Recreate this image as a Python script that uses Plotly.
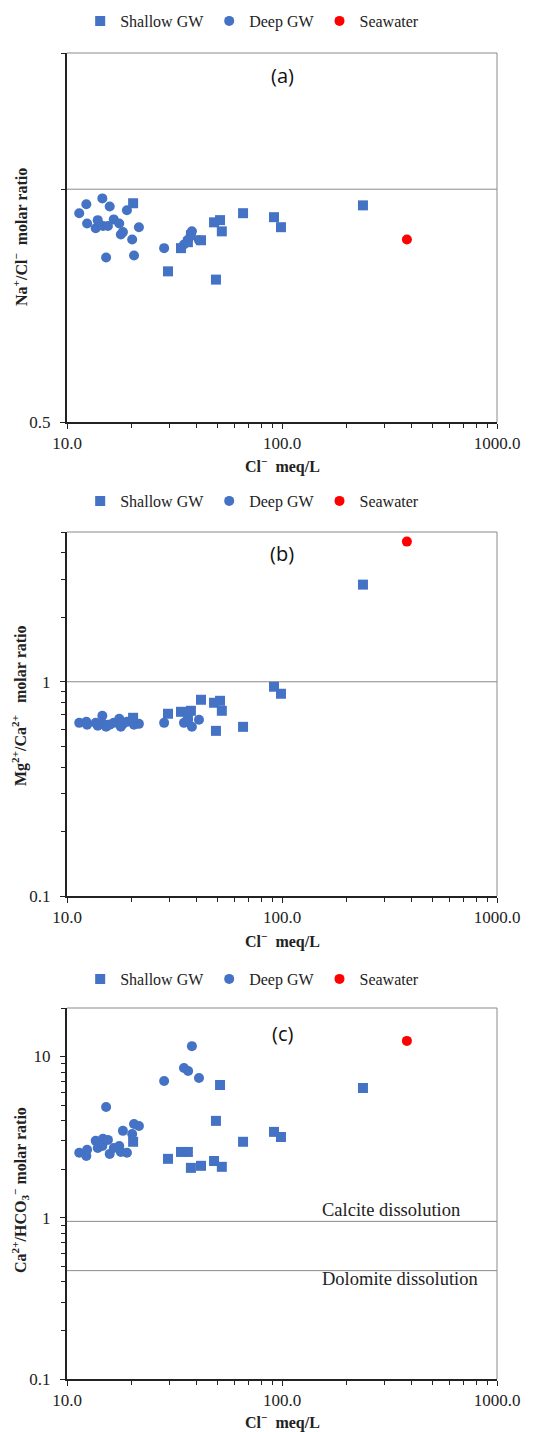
import math
import plotly.graph_objects as go

# Chloride (meq/L) and ionic molar ratios per groundwater group
shallow_cl = [20.3, 29.5, 33.9, 36.5, 37.7, 42.0, 48.3, 49.3, 51.5, 52.5, 65.9, 91.8, 98.9, 238.0]
shallow_na_cl = [0.959, 0.783, 0.839, 0.854, 0.872, 0.859, 0.906, 0.764, 0.912, 0.882, 0.931, 0.920, 0.893, 0.953]
shallow_mg_ca = [0.679, 0.709, 0.724, 0.700, 0.732, 0.824, 0.798, 0.590, 0.815, 0.732, 0.616, 0.948, 0.879, 2.84]
shallow_ca_hco3 = [2.96, 2.32, 2.56, 2.56, 2.04, 2.10, 2.25, 3.99, 6.66, 2.07, 2.96, 3.41, 3.17, 6.38]

deep_cl = [11.4, 12.3, 12.4, 13.6, 13.9, 14.6, 14.7, 15.2, 15.5, 15.8, 16.5, 17.5, 17.8,
           18.2, 19.0, 20.1, 20.5, 21.6, 28.3, 35.0, 36.6, 38.1, 41.1]
deep_na_cl = [0.931, 0.956, 0.903, 0.890, 0.912, 0.973, 0.896, 0.816, 0.896, 0.950, 0.914, 0.903,
              0.874, 0.880, 0.939, 0.861, 0.821, 0.893, 0.839, 0.848, 0.861, 0.882, 0.859]
deep_mg_ca = [0.643, 0.650, 0.630, 0.643, 0.623, 0.694, 0.636, 0.616, 0.630, 0.630, 0.643, 0.672,
              0.616, 0.636, 0.650, 0.665, 0.630, 0.636, 0.643, 0.643, 0.665, 0.616, 0.665]
deep_ca_hco3 = [2.53, 2.42, 2.64, 3.00, 2.71, 2.79, 3.09, 4.87, 3.04, 2.49, 2.71, 2.79, 2.56,
                3.46, 2.53, 3.31, 3.82, 3.71, 7.05, 8.49, 8.13, 11.6, 7.36]

seawater_cl = [381.0]
seawater_na_cl = [0.861]
seawater_mg_ca = [4.51]
seawater_ca_hco3 = [12.5]

# Reference ratio lines
halite_line = 1.0
mg_ca_line = 1.0
calcite_line = 0.95
dolomite_line = 0.47
line_span = [10, 1000]

x_ticks = [10, 100, 1000]
x_ticktext = ["10.0", "100.0", "1000.0"]
x_minor = [20, 30, 40, 50, 60, 70, 80, 90, 200, 300, 400, 500, 600, 700, 800, 900]

BLUE = "#4472C4"
RED = "#FF0000"
INK = "#222222"
FRAME = "#8a8a8a"
SERIF = "Liberation Serif, Times New Roman, serif"
SANS = "Open Sans, Noto Sans, sans-serif"

W, H = 540, 1432
PX_LEFT, PX_RIGHT = 67, 497


def py(px):
    """pixel row -> paper fraction"""
    return 1 - px / H


panels = [
    dict(top=53, bottom=422, yr=[0.5, 1.5], major=[0.5], majortext=["0.5"], minor=[1.0, 1.5],
         ys=(shallow_na_cl, deep_na_cl, seawater_na_cl), lines=[halite_line],
         legend_y=21, label="(a)", label_y=75,
         ytitle="Na<sup>+</sup>/Cl<sup>−</sup>  molar ratio", ytitle_y=237, xtitle_y=465),
    dict(top=532, bottom=896, yr=[0.1, 5], major=[0.1, 1], majortext=["0.1", "1"],
         minor=[0.2, 0.3, 0.4, 0.5, 0.6, 0.7, 0.8, 0.9, 2, 3, 4, 5],
         ys=(shallow_mg_ca, deep_mg_ca, seawater_mg_ca), lines=[mg_ca_line],
         legend_y=501, label="(b)", label_y=553,
         ytitle="Mg<sup>2+</sup>/Ca<sup>2+</sup>   molar ratio", ytitle_y=706, xtitle_y=941),
    dict(top=1008, bottom=1379, yr=[0.1, 20], major=[0.1, 1, 10], majortext=["0.1", "1", "10"],
         minor=[0.2, 0.3, 0.4, 0.5, 0.6, 0.7, 0.8, 0.9, 2, 3, 4, 5, 6, 7, 8, 9, 20],
         ys=(shallow_ca_hco3, deep_ca_hco3, seawater_ca_hco3), lines=[calcite_line, dolomite_line],
         legend_y=979, label="(c)", label_y=1033,
         ytitle="Ca<sup>2+</sup>/HCO<sub>3</sub><sup>−</sup> molar ratio", ytitle_y=1190, xtitle_y=1421),
]

fig = go.Figure()
annotations = []
shapes = []

for i, p in enumerate(panels, start=1):
    sfx = "" if i == 1 else str(i)
    xa, ya = "x" + sfx, "y" + sfx
    leg = "legend" + sfx
    sh, dp, sw = p["ys"]

    for v in p["lines"]:
        fig.add_trace(go.Scatter(x=line_span, y=[v, v], mode="lines", xaxis=xa, yaxis=ya,
                                 line=dict(color=FRAME, width=1), showlegend=False,
                                 hoverinfo="skip"))

    fig.add_trace(go.Scatter(x=deep_cl, y=dp, mode="markers", name="Deep GW", xaxis=xa, yaxis=ya,
                             legend=leg, legendrank=2,
                             marker=dict(symbol="circle", size=10, color=BLUE)))
    fig.add_trace(go.Scatter(x=shallow_cl, y=sh, mode="markers", name="Shallow GW", xaxis=xa, yaxis=ya,
                             legend=leg, legendrank=1,
                             marker=dict(symbol="square", size=10, color=BLUE)))
    fig.add_trace(go.Scatter(x=seawater_cl, y=sw, mode="markers", name="Seawater", xaxis=xa, yaxis=ya,
                             legend=leg, legendrank=3,
                             marker=dict(symbol="circle", size=10, color=RED)))

    fig.update_layout(**{
        "xaxis" + sfx: dict(
            type="log", range=[1, 3], domain=[PX_LEFT / W, PX_RIGHT / W], anchor=ya,
            tickmode="array", tickvals=x_ticks, ticktext=x_ticktext,
            ticks="outside", ticklen=5, tickwidth=1, tickcolor=INK,
            minor=dict(tickmode="array", tickvals=x_minor, ticks="outside", ticklen=4,
                       tickcolor=INK, showgrid=False),
            showline=True, linecolor=INK, linewidth=2, showgrid=False, zeroline=False,
            tickfont=dict(family=SERIF, size=17, color=INK), automargin=False,
        ),
        "yaxis" + sfx: dict(
            type="log", range=[math.log10(p["yr"][0]), math.log10(p["yr"][1])],
            domain=[py(p["bottom"]), py(p["top"])], anchor=xa,
            tickmode="array", tickvals=p["major"], ticktext=p["majortext"],
            ticks="outside", ticklen=5, tickwidth=1, tickcolor=INK, ticklabelstandoff=6,
            minor=dict(tickmode="array", tickvals=p["minor"], ticks="outside", ticklen=4,
                       tickcolor=INK, showgrid=False),
            showline=True, linecolor=INK, linewidth=2, showgrid=False, zeroline=False,
            tickfont=dict(family=SERIF, size=17, color=INK), automargin=False,
        ),
        leg: dict(orientation="h", x=0.467, xanchor="center", y=py(p["legend_y"]), yanchor="middle",
                  font=dict(family=SERIF, size=16, color=INK), itemwidth=30,
                  bgcolor="rgba(0,0,0,0)", traceorder="normal"),
    })

    # thin grey top and right frame
    shapes.append(dict(type="line", xref=xa + " domain", yref=ya + " domain", x0=0, x1=1, y0=1, y1=1,
                       line=dict(color=FRAME, width=1)))
    shapes.append(dict(type="line", xref=xa + " domain", yref=ya + " domain", x0=1, x1=1, y0=0, y1=1,
                       line=dict(color=FRAME, width=1)))

    annotations.append(dict(text=p["label"], xref="paper", yref="paper", x=282 / W, y=py(p["label_y"]),
                            showarrow=False, font=dict(family=SANS, size=20, color="#111"),
                            xanchor="center", yanchor="middle"))
    annotations.append(dict(text="<b>" + p["ytitle"] + "</b>", xref="paper", yref="paper",
                            x=20 / W, y=py(p["ytitle_y"]), textangle=-90,
                            showarrow=False, font=dict(family=SERIF, size=16, color=INK),
                            xanchor="center", yanchor="middle"))
    annotations.append(dict(text="<b>Cl<sup>−</sup>  meq/L</b>", xref="paper", yref="paper",
                            x=282 / W, y=py(p["xtitle_y"]), showarrow=False,
                            font=dict(family=SERIF, size=16, color=INK),
                            xanchor="center", yanchor="middle"))

annotations.append(dict(text="Calcite dissolution", xref="paper", yref="paper", x=320 / W, y=py(1210),
                        showarrow=False, font=dict(family=SERIF, size=18.5, color=INK),
                        xanchor="left", yanchor="middle"))
annotations.append(dict(text="Dolomite dissolution", xref="paper", yref="paper", x=320 / W, y=py(1279),
                        showarrow=False, font=dict(family=SERIF, size=18.5, color=INK),
                        xanchor="left", yanchor="middle"))

fig.update_layout(width=W, height=H, margin=dict(l=0, r=0, t=0, b=0, pad=0, autoexpand=False),
                  paper_bgcolor="white", plot_bgcolor="white",
                  annotations=annotations, shapes=shapes, showlegend=True)

fig.write_html("out.html")
